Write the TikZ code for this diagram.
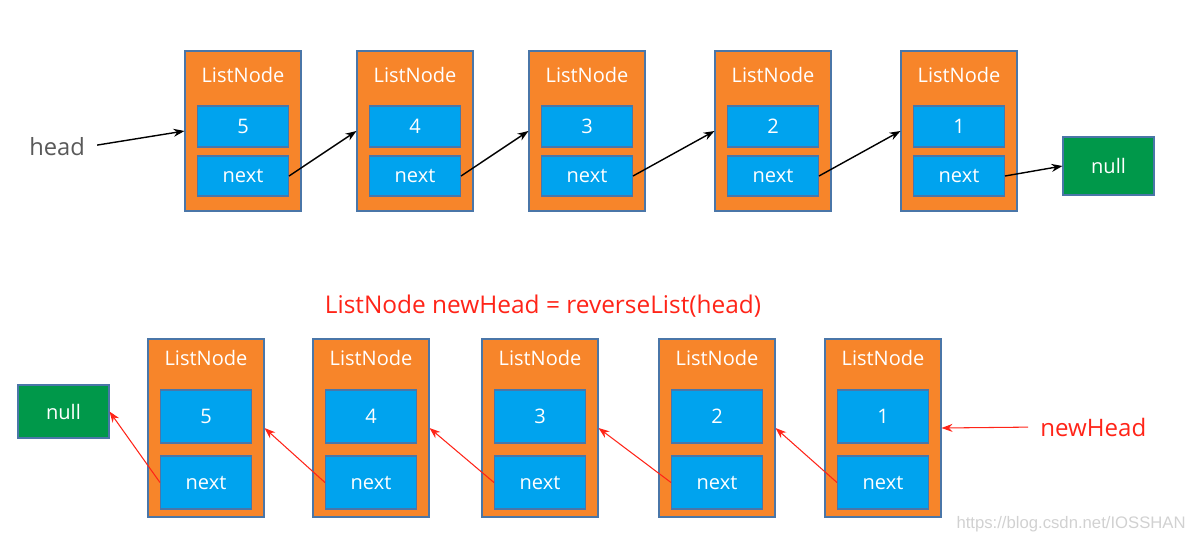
\documentclass[tikz,border=0pt]{standalone}
\usepackage{fontspec}
\setmainfont{Open Sans}
\newfontfamily\markfont{Liberation Sans}
\usetikzlibrary{arrows.meta}
\definecolor{boxorange}{HTML}{F7852A}
\definecolor{boxblue}{HTML}{00A3EE}
\definecolor{boxgreen}{HTML}{00984A}
\definecolor{boxedge}{HTML}{4A76A8}
\definecolor{textred}{HTML}{FF2418}
\definecolor{textgray}{HTML}{595959}

\tikzset{
    listbox/.style={rectangle, draw=boxedge, fill=boxorange, line width=0.6pt, minimum width=2.32cm},
    fieldbox/.style={rectangle, draw=boxedge, fill=boxblue, line width=0.6pt, minimum width=1.82cm, text=white},
    nullbox/.style={rectangle, draw=boxedge, fill=boxgreen, line width=0.6pt, minimum width=1.82cm, text=white},
    titletext/.style={text=white, font=\fontsize{11.4}{13}\selectfont},
    ptr/.style={-{Stealth[length=2.2mm, width=1.6mm]}, line width=0.8pt},
    revptr/.style={-{Stealth[length=2.2mm, width=1.6mm]}, line width=0.6pt, textred}
}

\begin{document}
\begin{tikzpicture}[x=0.02cm, y=-0.02cm, inner sep=0pt]
                \useasboundingbox (0,0) rectangle (1196,544);

                % original list
                \begin{scope}[every node/.append style={font=\fontsize{11.4}{13}\selectfont}]
                    \node[listbox, minimum height=3.2cm] (A1) at (243, 131) {};
                    \node[listbox, minimum height=3.2cm] (A2) at (415, 131) {};
                    \node[listbox, minimum height=3.2cm] (A3) at (587, 131) {};
                    \node[listbox, minimum height=3.2cm] (A4) at (773, 131) {};
                    \node[listbox, minimum height=3.2cm] (A5) at (959, 131) {};

                    \node[titletext] (t1) at (243, 75) {ListNode};
                    \node[titletext] (t2) at (415, 75) {ListNode};
                    \node[titletext] (t3) at (587, 75) {ListNode};
                    \node[titletext] (t4) at (773, 75) {ListNode};
                    \node[titletext] (t5) at (959, 75) {ListNode};

                    \node[fieldbox, minimum height=0.82cm] (v1) at (243, 126.5) {5};
                    \node[fieldbox, minimum height=0.82cm] (v2) at (415, 126.5) {4};
                    \node[fieldbox, minimum height=0.82cm] (v3) at (587, 126.5) {3};
                    \node[fieldbox, minimum height=0.82cm] (v4) at (773, 126.5) {2};
                    \node[fieldbox, minimum height=0.82cm] (v5) at (959, 126.5) {1};

                    \node[fieldbox, minimum height=0.8cm] (n1) at (243, 176) {next};
                    \node[fieldbox, minimum height=0.8cm] (n2) at (415, 176) {next};
                    \node[fieldbox, minimum height=0.8cm] (n3) at (587, 176) {next};
                    \node[fieldbox, minimum height=0.8cm] (n4) at (773, 176) {next};
                    \node[fieldbox, minimum height=0.8cm] (n5) at (959, 176) {next};

                    \node[nullbox, minimum height=1.16cm] (null1) at (1108.5, 166) {null};
                \end{scope}

                \node[text=textgray, font=\fontsize{13.5}{15}\selectfont, anchor=west] (head) at (29, 147) {head};

                \draw[ptr, shorten <=0.24cm] (head.east) -- (A1.west);
                \draw[ptr] (n1.east) -- (A2.west);
                \draw[ptr] (n2.east) -- (A3.west);
                \draw[ptr] (n3.east) -- (A4.west);
                \draw[ptr] (n4.east) -- (A5.west);
                \draw[ptr] (n5.east) -- (null1.west);

                % reversed list
                \node[text=textred, font=\fontsize{13.9}{16}\selectfont] (call) at (543, 306) {ListNode newHead = reverseList(head)};

                \begin{scope}[every node/.append style={font=\fontsize{11.4}{13}\selectfont}]
                    \node[listbox, minimum height=3.56cm] (B1) at (206, 428) {};
                    \node[listbox, minimum height=3.56cm] (B2) at (371, 428) {};
                    \node[listbox, minimum height=3.56cm] (B3) at (540, 428) {};
                    \node[listbox, minimum height=3.56cm] (B4) at (717, 428) {};
                    \node[listbox, minimum height=3.56cm] (B5) at (883, 428) {};

                    \node[titletext] (s1) at (206, 358) {ListNode};
                    \node[titletext] (s2) at (371, 358) {ListNode};
                    \node[titletext] (s3) at (540, 358) {ListNode};
                    \node[titletext] (s4) at (717, 358) {ListNode};
                    \node[titletext] (s5) at (883, 358) {ListNode};

                    \node[fieldbox, minimum height=1.06cm] (w1) at (206, 416.5) {5};
                    \node[fieldbox, minimum height=1.06cm] (w2) at (371, 416.5) {4};
                    \node[fieldbox, minimum height=1.06cm] (w3) at (540, 416.5) {3};
                    \node[fieldbox, minimum height=1.06cm] (w4) at (717, 416.5) {2};
                    \node[fieldbox, minimum height=1.06cm] (w5) at (883, 416.5) {1};

                    \node[fieldbox, minimum height=1.06cm] (m1) at (206, 482.5) {next};
                    \node[fieldbox, minimum height=1.06cm] (m2) at (371, 482.5) {next};
                    \node[fieldbox, minimum height=1.06cm] (m3) at (540, 482.5) {next};
                    \node[fieldbox, minimum height=1.06cm] (m4) at (717, 482.5) {next};
                    \node[fieldbox, minimum height=1.06cm] (m5) at (883, 482.5) {next};

                    \node[nullbox, minimum height=1.06cm] (null2) at (63.5, 411.5) {null};
                \end{scope}

                \node[text=textred, font=\fontsize{13.7}{16}\selectfont, anchor=west] (newhead) at (1040, 427) {newHead};

                \draw[revptr, shorten <=0.24cm] (newhead.west) -- (B5.east);
                \draw[revptr] (m5.west) -- (B4.east);
                \draw[revptr] (m4.west) -- (B3.east);
                \draw[revptr] (m3.west) -- (B2.east);
                \draw[revptr] (m2.west) -- (B1.east);
                \draw[revptr] (m1.west) -- (null2.east);

                \node[text=black!18, font=\markfont\fontsize{9.5}{11}\selectfont, anchor=east] (mark) at (1186, 524) {https://blog.csdn.net/IOSSHAN};
            \end{tikzpicture}
\end{document}
